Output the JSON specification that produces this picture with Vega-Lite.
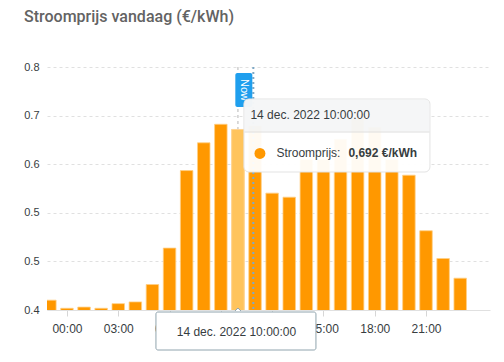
{
  "$schema": "https://vega.github.io/schema/vega-lite/v6.json",
  "width": 443,
  "height": 243,
  "autosize": {"type": "none"},
  "padding": {"left": 47, "top": 67, "right": 14, "bottom": 52},
  "background": "#ffffff",
  "title": {
    "text": "Stroomprijs vandaag (€/kWh)",
    "anchor": "start",
    "frame": "group",
    "dx": -23,
    "font": "Roboto",
    "fontSize": 16,
    "fontWeight": 500,
    "color": "#636363",
    "offset": 36
  },
  "config": {
    "view": {"stroke": null},
    "font": "Liberation Sans",
    "axisX": {
      "title": null,
      "grid": false,
      "domain": true,
      "domainColor": "#e0e0e0",
      "ticks": true,
      "tickColor": "#d6d6d6",
      "tickSize": 6,
      "labelFontSize": 12,
      "labelColor": "#373d3f",
      "labelPadding": 7,
      "labelFlush": false,
      "labelOverlap": false
    },
    "axisY": {
      "title": null,
      "grid": true,
      "gridColor": "#e0e0e0",
      "gridDash": [3, 3],
      "domain": false,
      "ticks": false,
      "labelFontSize": 11,
      "labelColor": "#373d3f",
      "labelPadding": 8
    }
  },
  "datasets": {
    "prices": [
      {"t": "2022-12-13T23:00:00", "price": 0.397},
      {"t": "2022-12-14T00:00:00", "price": 0.383},
      {"t": "2022-12-14T01:00:00", "price": 0.385},
      {"t": "2022-12-14T02:00:00", "price": 0.383},
      {"t": "2022-12-14T03:00:00", "price": 0.391},
      {"t": "2022-12-14T04:00:00", "price": 0.394},
      {"t": "2022-12-14T05:00:00", "price": 0.424},
      {"t": "2022-12-14T06:00:00", "price": 0.487},
      {"t": "2022-12-14T07:00:00", "price": 0.621},
      {"t": "2022-12-14T08:00:00", "price": 0.669},
      {"t": "2022-12-14T09:00:00", "price": 0.701},
      {"t": "2022-12-14T10:00:00", "price": 0.692},
      {"t": "2022-12-14T11:00:00", "price": 0.698},
      {"t": "2022-12-14T12:00:00", "price": 0.582},
      {"t": "2022-12-14T13:00:00", "price": 0.575},
      {"t": "2022-12-14T14:00:00", "price": 0.640},
      {"t": "2022-12-14T15:00:00", "price": 0.640},
      {"t": "2022-12-14T16:00:00", "price": 0.675},
      {"t": "2022-12-14T17:00:00", "price": 0.711},
      {"t": "2022-12-14T18:00:00", "price": 0.696},
      {"t": "2022-12-14T19:00:00", "price": 0.640},
      {"t": "2022-12-14T20:00:00", "price": 0.613},
      {"t": "2022-12-14T21:00:00", "price": 0.517},
      {"t": "2022-12-14T22:00:00", "price": 0.469},
      {"t": "2022-12-14T23:00:00", "price": 0.435}
    ],
    "hover": [
      {"t": "2022-12-14T10:00:00", "price": 0.692, "head": "14 dec. 2022 10:00:00", "name": "Stroomprijs:", "val": "0,692 €/kWh"}
    ],
    "now": [
      {"t": "2022-12-14T10:54:00", "label": "Now"}
    ]
  },
  "layer": [
    {
      "data": {"name": "prices"},
      "mark": {"type": "bar", "width": 12.5, "clip": true, "stroke": "#ffcf85", "strokeWidth": 0.8},
      "encoding": {
        "x": {
          "field": "t", "type": "temporal",
          "scale": {"domain": [{"year": 2022, "month": 12, "date": 13, "hours": 23, "minutes": 7, "seconds": 30}, {"year": 2022, "month": 12, "date": 15, "hours": 0, "minutes": 27}]},
          "axis": {
            "format": "%H:%M",
            "values": [
              {"year": 2022, "month": 12, "date": 14, "hours": 0},
              {"year": 2022, "month": 12, "date": 14, "hours": 3},
              {"year": 2022, "month": 12, "date": 14, "hours": 6},
              {"year": 2022, "month": 12, "date": 14, "hours": 9},
              {"year": 2022, "month": 12, "date": 14, "hours": 12},
              {"year": 2022, "month": 12, "date": 14, "hours": 15},
              {"year": 2022, "month": 12, "date": 14, "hours": 18},
              {"year": 2022, "month": 12, "date": 14, "hours": 21}
            ]
          }
        },
        "y": {
          "field": "price", "type": "quantitative",
          "scale": {"domain": [0.38, 0.8], "nice": false, "zero": false},
          "axis": {
            "values": [0.38, 0.464, 0.548, 0.632, 0.716, 0.8],
            "format": ".1f"
          }
        },
        "color": {
          "condition": {"test": "hours(datum.t) == 10", "value": "#ffc45c"},
          "value": "#ff9800"
        }
      }
    },
    {
      "data": {"name": "hover"},
      "mark": {"type": "rule", "color": "#b6b6b6", "strokeWidth": 1, "strokeDash": [3, 3], "opacity": 1},
      "encoding": {
        "x": {"field": "t", "type": "temporal"}
      }
    },
    {
      "data": {"name": "prices"},
      "transform": [{"filter": "hours(datum.t) == 10"}],
      "mark": {"type": "bar", "width": 12.5, "clip": true, "stroke": "#ffd79a", "strokeWidth": 0.8, "color": "#ffc45c"},
      "encoding": {
        "x": {"field": "t", "type": "temporal"},
        "y": {"field": "price", "type": "quantitative"}
      }
    },
    {
      "data": {"name": "now"},
      "mark": {"type": "rule", "color": "#7fa9c6", "strokeWidth": 2, "strokeDash": [2, 3]},
      "encoding": {
        "x": {"field": "t", "type": "temporal"}
      }
    },
    {
      "data": {"name": "now"},
      "mark": {"type": "rect", "width": 17, "height": 34, "xOffset": -9.5, "yOffset": 23, "color": "#1f9fee", "cornerRadius": 2},
      "encoding": {
        "x": {"field": "t", "type": "temporal"},
        "y": {"datum": 0.8, "type": "quantitative"}
      }
    },
    {
      "data": {"name": "now"},
      "mark": {"type": "text", "xOffset": -9, "yOffset": 23, "angle": 90, "align": "center", "baseline": "middle", "fontSize": 11, "color": "#ffffff"},
      "encoding": {
        "x": {"field": "t", "type": "temporal"},
        "y": {"datum": 0.8, "type": "quantitative"},
        "text": {"field": "label"}
      }
    },
    {
      "data": {"name": "hover"},
      "layer": [
        {
          "mark": {"type": "rect", "width": 186, "height": 73, "xOffset": 99, "yOffset": 6, "fill": "#ffffff", "fillOpacity": 0.95, "stroke": "#e3e3e3", "strokeWidth": 1, "cornerRadius": 5}
        },
        {
          "mark": {"type": "rect", "width": 185, "height": 32, "xOffset": 99, "yOffset": -14, "fill": "#eceff1", "fillOpacity": 0.55, "cornerRadiusTopLeft": 5, "cornerRadiusTopRight": 5}
        },
        {
          "mark": {"type": "rect", "width": 185, "height": 1, "xOffset": 99, "yOffset": 2.5, "fill": "#dddddd"}
        },
        {
          "mark": {"type": "point", "shape": "circle", "filled": true, "size": 120, "opacity": 1, "color": "#ff9800", "xOffset": 22, "yOffset": 24}
        },
        {
          "mark": {"type": "text", "align": "left", "baseline": "middle", "fontSize": 12, "color": "#373d3f", "xOffset": 12.5, "yOffset": -14},
          "encoding": {"text": {"field": "head"}}
        },
        {
          "mark": {"type": "text", "align": "left", "baseline": "middle", "fontSize": 12, "color": "#373d3f", "xOffset": 38.5, "yOffset": 24},
          "encoding": {"text": {"field": "name"}}
        },
        {
          "mark": {"type": "text", "align": "left", "baseline": "middle", "fontSize": 12, "fontWeight": "bold", "color": "#373d3f", "xOffset": 110.5, "yOffset": 24},
          "encoding": {"text": {"field": "val"}}
        }
      ],
      "encoding": {
        "x": {"field": "t", "type": "temporal"},
        "y": {"field": "price", "type": "quantitative"}
      }
    },
    {
      "data": {"name": "hover"},
      "layer": [
        {
          "mark": {"type": "rect", "width": 160, "height": 38, "xOffset": -2, "yOffset": 21, "fill": "#ffffff", "stroke": "#90a4ae", "strokeWidth": 1, "cornerRadius": 2}
        },
        {
          "mark": {"type": "point", "shape": "M-1,0.5L0,-0.5L1,0.5", "size": 36, "filled": true, "fill": "#ffffff", "stroke": "#90a4ae", "strokeWidth": 1, "opacity": 1, "strokeOpacity": 1, "fillOpacity": 1, "yOffset": -0.5}
        },
        {
          "mark": {"type": "text", "align": "center", "baseline": "middle", "fontSize": 12, "color": "#373d3f", "xOffset": -1.5, "yOffset": 22},
          "encoding": {"text": {"field": "head"}}
        }
      ],
      "encoding": {
        "x": {"field": "t", "type": "temporal"},
        "y": {"datum": 0.38, "type": "quantitative"}
      }
    }
  ]
}
